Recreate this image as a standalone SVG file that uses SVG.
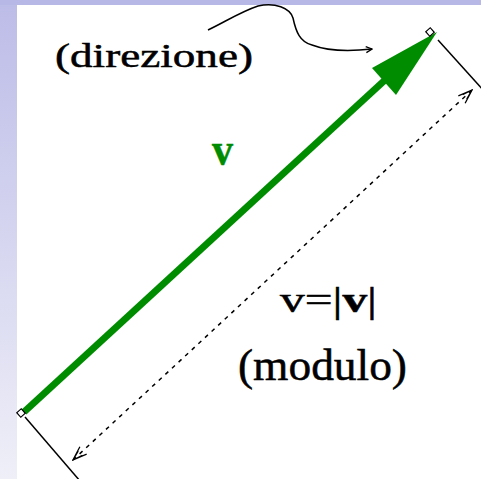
<svg xmlns="http://www.w3.org/2000/svg" width="481" height="479" viewBox="0 0 481 479">
<defs>
<linearGradient id="band" x1="0" y1="0" x2="0" y2="1">
<stop offset="0" stop-color="#bcbce8"/>
<stop offset="1" stop-color="#efeff8"/>
</linearGradient>
<marker id="open" viewBox="0 0 16 12" refX="15" refY="6" markerWidth="16" markerHeight="12" markerUnits="userSpaceOnUse" orient="auto-start-reverse">
<path d="M1,1 L15,6 L1,11 M5,3 L15,6 L5,9" fill="none" stroke="#000" stroke-width="1.3"/>
</marker>
<marker id="small" viewBox="0 0 8 8" refX="7" refY="4" markerWidth="8" markerHeight="8" markerUnits="userSpaceOnUse" orient="auto">
<path d="M1,1 L7,4 L1,7" fill="none" stroke="#000" stroke-width="1.3"/>
</marker>
<style>
.txt{font-family:"Liberation Serif","Times New Roman",serif;fill:#000;stroke:#000;stroke-width:0.5}
.thin{fill:none;stroke:#000;stroke-width:1.5}
</style>
</defs>
<rect x="0" y="0" width="481" height="479" fill="#fff"/>
<rect x="0" y="0" width="17" height="479" fill="url(#band)"/>
<rect x="0" y="0" width="481" height="5" fill="#b8b8e6"/>
<g id="connectors">
<path class="thin" d="M208,30 C225,22 240,12 258,6 C275,2 290,8 293,18 C296,32 300,42 312,45 C325,50 345,52 372,49" marker-end="url(#small)"/>
<line class="thin" x1="438" y1="40" x2="485" y2="92"/>
<line class="thin" x1="25" y1="417" x2="80" y2="481"/>
<line class="thin" x1="73" y1="460" x2="472" y2="90" stroke-dasharray="4 5" marker-start="url(#open)" marker-end="url(#open)"/>
</g>
<g id="vector">
<line x1="24" y1="412" x2="385" y2="80" stroke="#008c00" stroke-width="7"/>
<polygon points="437,32 372,68 396,95" fill="#008c00"/>
<rect x="-3" y="-3" width="6" height="6" fill="none" stroke="#000" stroke-width="1.2" transform="translate(430,32) rotate(-42)"/>
<rect x="-3" y="-3" width="6" height="6" fill="none" stroke="#000" stroke-width="1.2" transform="translate(21,413) rotate(-42)"/>
</g>
<g id="label-direzione">
<text class="txt" x="55" y="67" font-size="34" textLength="198" lengthAdjust="spacingAndGlyphs">(direzione)</text>
</g>
<g id="label-v">
<text class="txt" x="212" y="165" font-size="46" font-weight="bold" style="fill:#008c00;stroke:#008c00" textLength="21" lengthAdjust="spacingAndGlyphs">v</text>
</g>
<g id="label-modulo-eq">
<text class="txt" x="280" y="312" font-size="36" textLength="97" lengthAdjust="spacingAndGlyphs">v=|<tspan font-weight="bold">v</tspan>|</text>
</g>
<g id="label-modulo">
<text class="txt" x="238" y="380" font-size="44" textLength="169" lengthAdjust="spacingAndGlyphs">(modulo)</text>
</g>
</svg>
